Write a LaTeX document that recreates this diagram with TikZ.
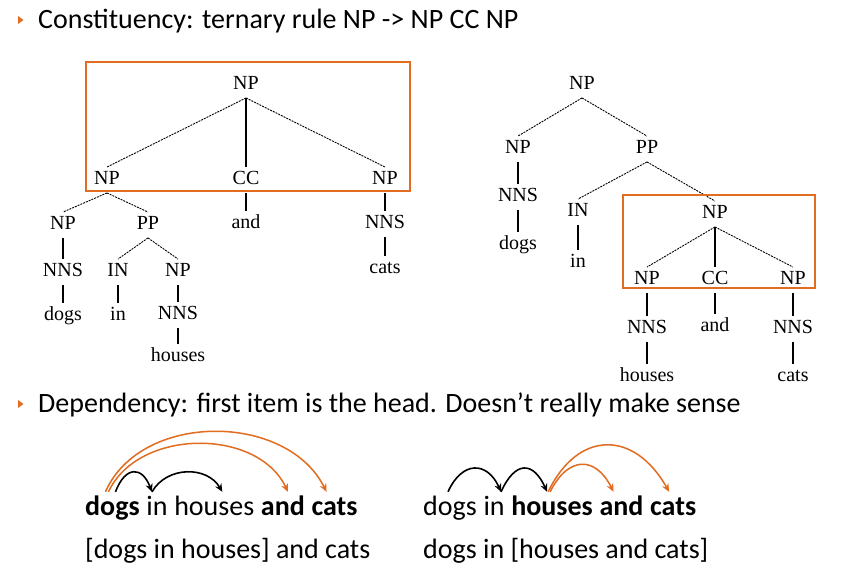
\documentclass[tikz,border=0pt]{standalone}
\usepackage{fontspec}
\setmainfont{Carlito}
\newfontfamily\treefont{Liberation Serif}
\usetikzlibrary{arrows.meta}
\definecolor{orng}{RGB}{226,108,32}
\begin{document}
\begin{tikzpicture}[x=1pt,y=-1pt,
  lbl/.style={font=\treefont\fontsize{20}{21}\selectfont, text height=13.5pt, text depth=4pt, inner xsep=0pt, inner ysep=4pt},
  dl/.style={line width=0.9pt, dash pattern=on 2pt off 1pt, black},
  vl/.style={line width=1.3pt, black},
  hbox/.style={draw=orng, line width=2.3pt},
  head/.style={font=\fontsize{28}{32}\selectfont, anchor=base west, inner sep=0pt},
  word/.style={font=\fontsize{28}{32}\selectfont, anchor=base west, inner xsep=0pt, inner ysep=3pt, text height=20pt, text depth=6pt},
  blk/.style={line width=1.6pt, black, -{Stealth[length=8pt,width=7pt]}},
  org/.style={line width=1.5pt, orng, -{Stealth[length=8pt,width=7pt]}},
  bul/.style={fill=orng}
]
\useasboundingbox[fill=white] (0,0) rectangle (850,584);

% headings
\fill[bul] (18,16) -- (23.5,20) -- (18,24) -- cycle;
\node[head] (h1) at (38,28) {Constituency: ternary rule NP -> NP CC NP};
\fill[bul] (18,400) -- (23.5,404) -- (18,408) -- cycle;
\node[head] (h2) at (38,412) {Dependency: first item is the head. Doesn’t really make sense};

\begin{scope}[shift={(0,2)}]
% ---------- left tree ----------
\node[lbl] (L0) at (246,83) {NP};
\node[lbl] (L1) at (107,178) {NP};
\node[lbl] (L2) at (246,178) {CC};
\node[lbl] (L3) at (385,178) {NP};
\node[lbl] (L11) at (63,223) {NP};
\node[lbl] (L12) at (148,223) {PP};
\node[lbl] (L21) at (246,222) {and};
\node[lbl] (L31) at (385,222) {NNS};
\node[lbl] (L111) at (63,270) {NNS};
\node[lbl] (L121) at (118,270) {IN};
\node[lbl] (L122) at (178,270) {NP};
\node[lbl] (L311) at (385,267) {cats};
\node[lbl] (L1111) at (63,314) {dogs};
\node[lbl] (L1211) at (118,314) {in};
\node[lbl] (L1221) at (178,313) {NNS};
\node[lbl] (L12211) at (178,355) {houses};

\draw[dl] (L0.south) -- (L1.north);
\draw[vl] (L0.south) -- (L2.north);
\draw[dl] (L0.south) -- (L3.north);
\draw[dl] (L1.south) -- (L11.north);
\draw[dl] (L1.south) -- (L12.north);
\draw[vl] (L2.south) -- (L21.north);
\draw[vl] (L3.south) -- (L31.north);
\draw[vl] (L11.south) -- (L111.north);
\draw[dl] (L12.south) -- (L121.north);
\draw[dl] (L12.south) -- (L122.north);
\draw[vl] (L31.south) -- (L311.north);
\draw[vl] (L111.south) -- (L1111.north);
\draw[vl] (L121.south) -- (L1211.north);
\draw[vl] (L122.south) -- (L1221.north);
\draw[vl] (L1221.south) -- (L12211.north);

% ---------- right tree ----------
\node[lbl] (R0) at (582,83) {NP};
\node[lbl] (R1) at (518,147) {NP};
\node[lbl] (R2) at (647,147) {PP};
\node[lbl] (R11) at (518,195) {NNS};
\node[lbl] (R111) at (518,243) {dogs};
\node[lbl] (R21) at (578,210) {IN};
\node[lbl] (R211) at (578,261) {in};
\node[lbl] (R22) at (715,212) {NP};
\node[lbl] (R221) at (647,278) {NP};
\node[lbl] (R222) at (715,278) {CC};
\node[lbl] (R223) at (793,278) {NP};
\node[lbl] (R2211) at (647,327) {NNS};
\node[lbl] (R2221) at (715,325) {and};
\node[lbl] (R2231) at (793,327) {NNS};
\node[lbl] (R22111) at (647,375) {houses};
\node[lbl] (R22311) at (793,375) {cats};

\draw[dl] (R0.south) -- (R1.north);
\draw[dl] (R0.south) -- (R2.north);
\draw[vl] (R1.south) -- (R11.north);
\draw[vl] (R11.south) -- (R111.north);
\draw[dl] (R2.south) -- (R21.north);
\draw[dl] (R2.south) -- (R22.north);
\draw[vl] (R21.south) -- (R211.north);
\draw[dl] (R22.south) -- (R221.north);
\draw[vl] (R22.south) -- (R222.north);
\draw[dl] (R22.south) -- (R223.north);
\draw[vl] (R221.south) -- (R2211.north);
\draw[vl] (R222.south) -- (R2221.north);
\draw[vl] (R223.south) -- (R2231.north);
\draw[vl] (R2211.south) -- (R22111.north);
\draw[vl] (R2231.south) -- (R22311.north);
\end{scope}

\draw[hbox] (86,62) rectangle (410,191);
\draw[hbox] (623,195) rectangle (815,288);

% ---------- dependency, left ----------
\node[word] (la1) at (85,515) {\textbf{dogs}};
\node[word] (la2) at ([xshift=6.3pt]la1.base east) {in};
\node[word] (la3) at ([xshift=6.3pt]la2.base east) {houses};
\node[word] (la4) at ([xshift=6.3pt]la3.base east) {\textbf{and}};
\node[word] (la5) at ([xshift=6.3pt]la4.base east) {\textbf{cats}};
\node[word] (lb) at (85,558) {[dogs in houses] and cats};

\draw[org] ([xshift=-7pt]la1.north) .. controls +(35,-80) and +(-40,-80) .. ([xshift=-8pt]la5.north);
\draw[org] ([xshift=-4pt]la1.north) .. controls +(30,-64) and +(-30,-64) .. ([xshift=5pt]la4.north);
\draw[blk] ([xshift=3pt]la1.north) .. controls +(10,-26) and +(-10,-26) .. ([xshift=-5pt]la2.north);
\draw[blk] ([xshift=-5pt]la2.north) .. controls +(15,-26) and +(-15,-26) .. ([xshift=8pt]la3.north);

% ---------- dependency, right ----------
\node[word] (ra1) at (423,515) {dogs};
\node[word] (ra2) at ([xshift=6.3pt]ra1.base east) {in};
\node[word] (ra3) at ([xshift=6.3pt]ra2.base east) {\textbf{houses}};
\node[word] (ra4) at ([xshift=6.3pt]ra3.base east) {\textbf{and}};
\node[word] (ra5) at ([xshift=6.3pt]ra4.base east) {\textbf{cats}};
\node[word] (rb) at (423,558) {dogs in [houses and cats]};

\draw[blk] ([xshift=-2pt]ra1.north) .. controls +(14,-31) and +(-14,-31) .. ([xshift=7pt]ra2.north);
\draw[blk] ([xshift=7pt]ra2.north) .. controls +(14,-31) and +(-14,-31) .. ([xshift=-5pt]ra3.north);
\draw[org] ([xshift=-2pt]ra3.north) .. controls +(18,-36) and +(-18,-36) .. ([xshift=-8pt]ra4.north);
\draw[org] ([xshift=-4pt]ra3.north) .. controls +(30,-62) and +(-35,-62) .. ([xshift=-4pt]ra5.north);
\end{tikzpicture}
\end{document}
